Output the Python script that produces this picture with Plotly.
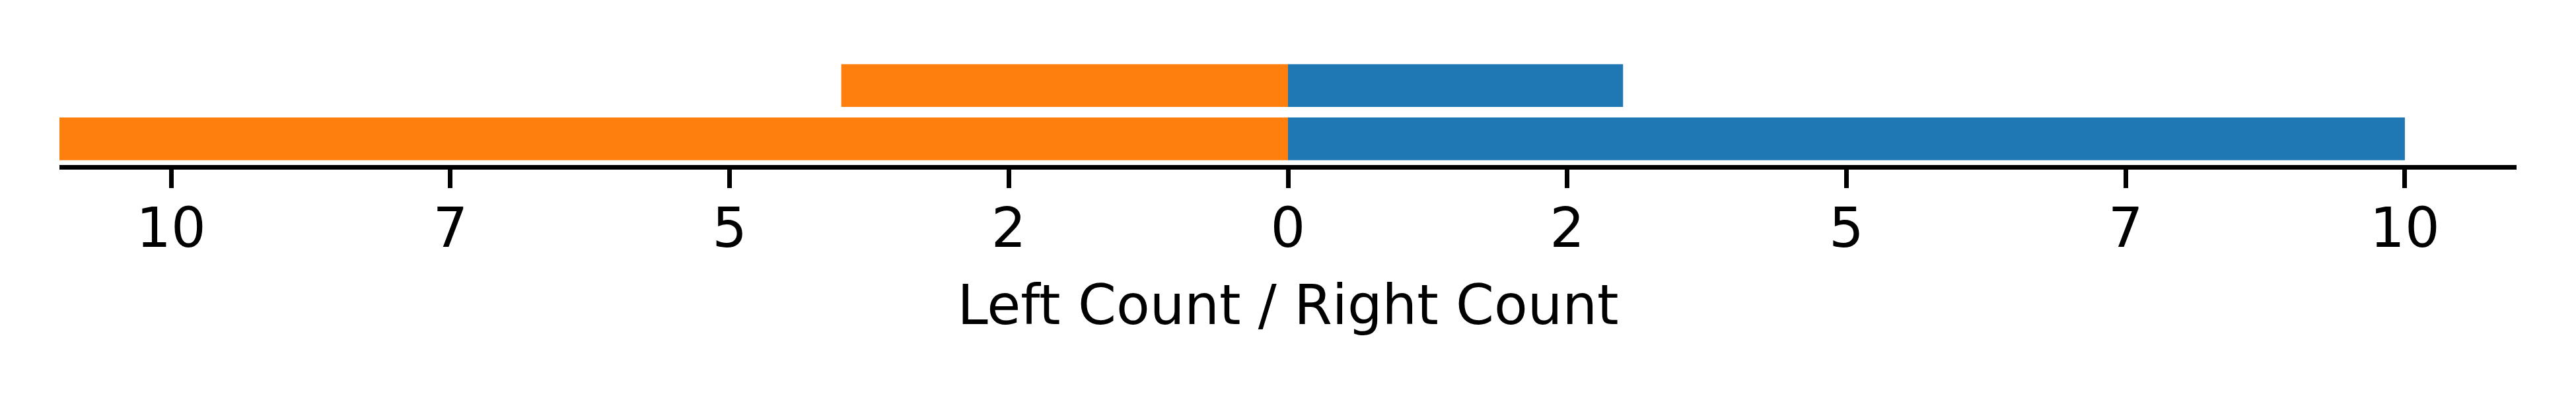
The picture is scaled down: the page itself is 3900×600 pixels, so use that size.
import plotly.graph_objects as go

rows = [0, 1]
left_counts = [11, 4]
right_counts = [10, 3]
tick_vals = [-10, -7.5, -5, -2.5, 0, 2.5, 5, 7.5, 10]
tick_text = ["10", "7", "5", "2", "0", "2", "5", "7", "10"]

FONT = "DejaVu Sans"

fig = go.Figure()
fig.add_trace(go.Bar(
    y=rows, x=[-v for v in left_counts], orientation="h", width=0.8,
    marker=dict(color="#ff7f0e", line=dict(width=0)), name="Left",
))
fig.add_trace(go.Bar(
    y=rows, x=right_counts, orientation="h", width=0.8,
    marker=dict(color="#1f77b4", line=dict(width=0)), name="Right",
))

fig.update_layout(
    width=3900, height=600,
    margin=dict(l=82, r=98, t=82, b=358),
    barmode="relative",
    showlegend=False,
    plot_bgcolor="white", paper_bgcolor="white",
    font=dict(family=FONT, size=83, color="black"),
)
fig.update_xaxes(
    range=[-11, 11], tickmode="array", tickvals=tick_vals, ticktext=tick_text,
    showline=True, linecolor="black", linewidth=6.5,
    ticks="outside", ticklen=28, tickwidth=6.5, tickcolor="black",
    ticklabelstandoff=-10,
    tickfont=dict(family=FONT, size=83, color="black"),
    showgrid=False, zeroline=False,
    title=dict(text="Left Count / Right Count", font=dict(family=FONT, size=83, color="black"), standoff=42),
)
fig.update_yaxes(range=[-0.49, 1.49], visible=False, showgrid=False, zeroline=False)

fig.write_html("out.html")
